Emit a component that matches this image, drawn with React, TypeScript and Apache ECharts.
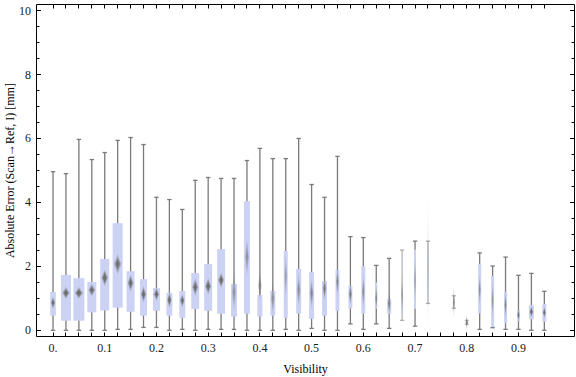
import React, { useEffect, useRef } from "react";
import * as echarts from "echarts";

// bin centres (visibility)
const visibility = [
  0, 0.025, 0.05, 0.075, 0.1, 0.125, 0.15, 0.175, 0.2, 0.225,
  0.25, 0.275, 0.3, 0.325, 0.35, 0.375, 0.4, 0.425, 0.45, 0.475,
  0.5, 0.525, 0.55, 0.575, 0.6, 0.625, 0.65, 0.675, 0.7, 0.725,
  0.75, 0.775, 0.8, 0.825, 0.85, 0.875, 0.9, 0.925, 0.95,
];
// whisker ends, quartiles, mean marker and its half-height
const whiskerLow = [
  0, 0, 0, 0, 0, 0.03, 0.03, 0.09, 0.09, 0,
  0.03, 0, 0.03, 0.03, 0.03, 0, 0, 0, 0.03, 0,
  0.06, 0, 0, 0.2, 0.03, 0.2, 0.06, 0.31, 0.13, 0.84,
  null, 0.69, 0.19, 0.03, 0.08, 0.03, 0.03, 0, 0,
];
const quartile1 = [
  0.46, 0.3, 0.3, 0.56, 0.62, 0.71, 0.58, 0.46, 0.61, 0.46,
  0.39, 0.67, 0.61, 0.52, 0.43, 0.52, 0.43, 0.46, 0.39, 0.52,
  0.36, 0.46, 0.61, 0.68, 0.52, 0.68, 0.52, 0.48, 0.67, 0.86,
  null, 0.75, 0.22, 0.53, 0.11, 0.22, 0.28, 0.35, 0.27,
];
const quartile3 = [
  1.2, 1.73, 1.63, 1.51, 2.23, 3.35, 1.85, 1.6, 1.32, 1.17,
  1.23, 1.79, 2.07, 2.54, 1.45, 4.04, 1.1, 1.23, 2.48, 1.92,
  1.82, 1.54, 1.88, 1.38, 2.01, 1.49, 0.98, 0.95, 2.52, 2.5,
  null, 1.0, 0.28, 2.07, 1.7, 1.21, 0.63, 0.79, 0.82,
];
const whiskerHigh = [
  4.96, 4.9, 5.97, 5.34, 5.56, 5.94, 6.03, 5.81, 4.16, 4.09,
  3.78, 4.69, 4.78, 4.75, 4.75, 5.31, 5.69, 5.37, 5.37, 6.0,
  4.56, 4.16, 5.44, 2.93, 2.9, 2.03, 2.25, 2.51, 2.79, 2.79,
  null, 1.08, 0.31, 2.42, 2.01, 2.29, 1.72, 1.78, 1.22,
];
const meanValue = [
  0.86, 1.17, 1.17, 1.26, 1.64, 2.07, 1.48, 1.13, 1.13, 0.95,
  0.93, 1.35, 1.38, 1.57, 1.2, 2.3, 1.39, 1.0, 1.68, 1.26,
  1.16, 1.31, 1.52, 1.13, 1.21, 1.0, 0.84, 1.1, 1.57, 2.04,
  null, 0.88, 0.25, 1.26, 0.95, 0.79, 0.48, 0.58, 0.56,
];
const meanSpread = [
  0.17, 0.16, 0.16, 0.17, 0.23, 0.27, 0.23, 0.22, 0.18, 0.21,
  0.18, 0.24, 0.22, 0.21, 0.55, 0.52, 0.42, 0.47, 0.65, 0.47,
  0.42, 0.34, 0.39, 0.29, 0.47, 0.36, 0.31, 0.6, 0.62, 1.93,
  null, 0.4, 0.18, 0.42, 0.52, 0.36, 0.16, 0.16, 0.15,
];
// relative sample weight of each bin (drives box width / opacity)
const binWeight = [
  5.7, 10, 11, 9, 9, 10, 8, 7, 7, 6,
  6, 8, 8, 8, 6, 6, 5, 5, 4, 5,
  5, 5, 4, 4, 4, 2, 4, 2, 2, 1.5,
  null, 1.5, 1, 3, 3, 3, 3, 5, 4,
];
const binAlpha = [
  1, 1, 1, 1, 1, 1, 1, 1, 1, 1,
  1, 1, 1, 1, 1, 1, 1, 1, 1, 1,
  1, 1, 1, 1, 1, 1, 1, 0.55, 1, 0.6,
  null, 0.55, 0.45, 1, 1, 1, 1, 1, 1,
];

const xLabelValues = [0, 0.1, 0.2, 0.3, 0.4, 0.5, 0.6, 0.7, 0.8, 0.9];
const xLabelTexts = ["0.", "0.1", "0.2", "0.3", "0.4", "0.5", "0.6", "0.7", "0.8", "0.9"];
const yMajorTicks = [0, 2, 4, 6, 8, 10];
const yMinorTicks = [0.5, 1, 1.5, 2.5, 3, 3.5, 4.5, 5, 5.5, 6.5, 7, 7.5, 8.5, 9, 9.5];

const FONT = "'Liberation Serif', 'Times New Roman', serif";
const X_MIN = -0.0329;
const X_MAX = 1.0093;
const Y_MIN = -0.2;
const Y_MAX = 10.19;

export default function App() {
  const ref = useRef<HTMLDivElement>(null);

  useEffect(() => {
    if (!ref.current) return;
    const chart = echarts.init(ref.current, null, { renderer: "svg" });

    const data: any[] = [];
    visibility.forEach((v, i) => {
      if (whiskerLow[i] == null) return;
      data.push([
        v, whiskerLow[i], quartile1[i], quartile3[i], whiskerHigh[i],
        meanValue[i], meanSpread[i], binWeight[i], binAlpha[i],
      ]);
    });

    const xAxisBase = (position: "bottom" | "top", labels: boolean) => ({
      type: "value",
      position,
      min: X_MIN,
      max: X_MAX,
      splitLine: { show: false },
      axisLine: { show: false, onZero: false },
      axisTick: { show: false },
      axisLabel: labels
        ? {
            show: true,
            customValues: xLabelValues,
            formatter: (val: number) => {
              const k = xLabelValues.findIndex((t) => Math.abs(t - val) < 1e-6);
              return k >= 0 ? xLabelTexts[k] : "";
            },
            margin: 5,
            color: "#1a1a1a",
            fontFamily: FONT,
            fontSize: 12,
          }
        : { show: false },
      ...(labels
        ? {
            name: "Visibility",
            nameLocation: "middle",
            nameGap: 26,
            nameMoveOverlap: false,
            nameTextStyle: { fontFamily: FONT, fontSize: 12, color: "#000" },
          }
        : {}),
    });

    const yAxisBase = (position: "left" | "right", labels: boolean) => ({
      type: "value",
      position,
      min: Y_MIN,
      max: Y_MAX,
      splitLine: { show: false },
      axisLine: { show: false, onZero: false },
      axisTick: { show: false },
      axisLabel: labels
        ? {
            show: true,
            customValues: yMajorTicks,
            margin: 5,
            color: "#1a1a1a",
            fontFamily: FONT,
            fontSize: 12,
          }
        : { show: false },
      ...(labels
        ? {
            name: "Absolute Error (Scan\u2192Ref, I) [mm]",
            nameLocation: "middle",
            nameRotate: 90,
            nameGap: 20,
            nameMoveOverlap: false,
            nameTextStyle: { fontFamily: FONT, fontSize: 12, color: "#000" },
          }
        : {}),
    });

    const black = { stroke: "#000", lineWidth: 1 };
    const crisp = (v: number) => Math.round(v - 0.5) + 0.5;

    const option: any = {
      animation: false,
      backgroundColor: "#fff",
      grid: {
        left: 36,
        right: 1,
        top: 4.5,
        bottom: 40.3,
        containLabel: false,
        outerBoundsMode: "none",
      },
      xAxis: [xAxisBase("bottom", true), xAxisBase("top", false)],
      yAxis: [yAxisBase("left", true), yAxisBase("right", false)],
      series: [
        // frame
        {
          type: "custom",
          xAxisIndex: 0,
          yAxisIndex: 0,
          silent: true,
          clip: false,
          data: [[X_MIN, Y_MIN]],
          renderItem: (params: any) => {
            const cs = params.coordSys;
            const l = crisp(cs.x), t = crisp(cs.y);
            const r = crisp(cs.x + cs.width - 1), b = crisp(cs.y + cs.height);
            return {
              type: "group",
              children: [
                { type: "line", shape: { x1: l, y1: t, x2: r, y2: t }, style: black },
                { type: "line", shape: { x1: r, y1: t, x2: r, y2: b }, style: black },
                { type: "line", shape: { x1: l, y1: b, x2: r, y2: b }, style: black },
                { type: "line", shape: { x1: l, y1: t, x2: l, y2: b }, style: black },
              ],
            };
          },
        },
        // x ticks (bottom & top), at each bin centre
        {
          type: "custom",
          xAxisIndex: 0,
          yAxisIndex: 0,
          silent: true,
          clip: false,
          data: visibility.map((v) => [v, Y_MIN]),
          renderItem: (params: any, api: any) => {
            const p = api.coord([api.value(0), api.value(1)]);
            const cs = params.coordSys;
            const x = crisp(p[0]);
            const t = crisp(cs.y), b = crisp(cs.y + cs.height);
            return {
              type: "group",
              children: [
                { type: "line", shape: { x1: x, y1: b, x2: x, y2: b - 4 }, style: black },
                { type: "line", shape: { x1: x, y1: t, x2: x, y2: t + 4 }, style: black },
              ],
            };
          },
        },
        // y ticks (left & right), major and minor
        {
          type: "custom",
          xAxisIndex: 0,
          yAxisIndex: 0,
          silent: true,
          clip: false,
          data: [
            ...yMajorTicks.map((v) => [X_MIN, v, 4.5]),
            ...yMinorTicks.map((v) => [X_MIN, v, 3]),
          ],
          renderItem: (params: any, api: any) => {
            const p = api.coord([api.value(0), api.value(1)]);
            const len = api.value(2);
            const cs = params.coordSys;
            const y = crisp(p[1]);
            const l = crisp(cs.x), r = crisp(cs.x + cs.width - 1);
            return {
              type: "group",
              children: [
                { type: "line", shape: { x1: l, y1: y, x2: l + len, y2: y }, style: black },
                { type: "line", shape: { x1: r - len, y1: y, x2: r, y2: y }, style: black },
              ],
            };
          },
        },
        // box-whisker bins
        {
          type: "custom",
          xAxisIndex: 0,
          yAxisIndex: 0,
          clip: false,
          data,
          renderItem: (_params: any, api: any) => {
            const x = api.value(0);
            const lo = api.coord([x, api.value(1)]);
            const b1 = api.coord([x, api.value(2)]);
            const b3 = api.coord([x, api.value(3)]);
            const hi = api.coord([x, api.value(4)]);
            const mu = api.value(5);
            const ci = api.value(6);
            const mC = api.coord([x, mu]);
            const mT = api.coord([x, mu + ci]);
            const w = api.value(7);
            const a = api.value(8);
            const cx = lo[0];
            const capHalf = 2.2;
            const stroke = "#7a7a7a";
            const hh = mC[1] - mT[1];
            const hw = Math.max(1, 0.33 * w);
            const op = Math.max(0.12, Math.min(1, 0.22 / ci));
            const diamond = (s: number) => [
              [cx, mC[1] - hh * s],
              [cx + hw * s, mC[1]],
              [cx, mC[1] + hh * s],
              [cx - hw * s, mC[1]],
            ];
            return {
              type: "group",
              children: [
                {
                  type: "line",
                  shape: { x1: cx, y1: hi[1], x2: cx, y2: lo[1] },
                  style: { stroke, lineWidth: 1.3, opacity: a },
                },
                {
                  type: "line",
                  shape: { x1: cx - capHalf, y1: hi[1], x2: cx + capHalf, y2: hi[1] },
                  style: { stroke, lineWidth: 1.3, opacity: a },
                },
                {
                  type: "line",
                  shape: { x1: cx - capHalf, y1: lo[1], x2: cx + capHalf, y2: lo[1] },
                  style: { stroke, lineWidth: 1.3, opacity: a },
                },
                {
                  type: "rect",
                  shape: { x: cx - w / 2, y: b3[1], width: w, height: b1[1] - b3[1] },
                  style: { fill: "#cbd2f4", opacity: a },
                },
                {
                  type: "polygon",
                  shape: { points: diamond(1.15) },
                  style: { fill: "#777", opacity: op * 0.35 },
                },
                {
                  type: "polygon",
                  shape: { points: diamond(0.85) },
                  style: { fill: "#737373", opacity: op * 0.65 },
                },
                {
                  type: "polygon",
                  shape: { points: diamond(0.55) },
                  style: { fill: "#6c6c6c", opacity: op * 0.95 },
                },
              ],
            };
          },
        },
      ],
    };

    chart.setOption(option);
    return () => chart.dispose();
  }, []);

  return (
    <div
      ref={ref}
      style={{ position: "absolute", left: 0, top: 0, width: 576, height: 377 }}
    />
  );
}
